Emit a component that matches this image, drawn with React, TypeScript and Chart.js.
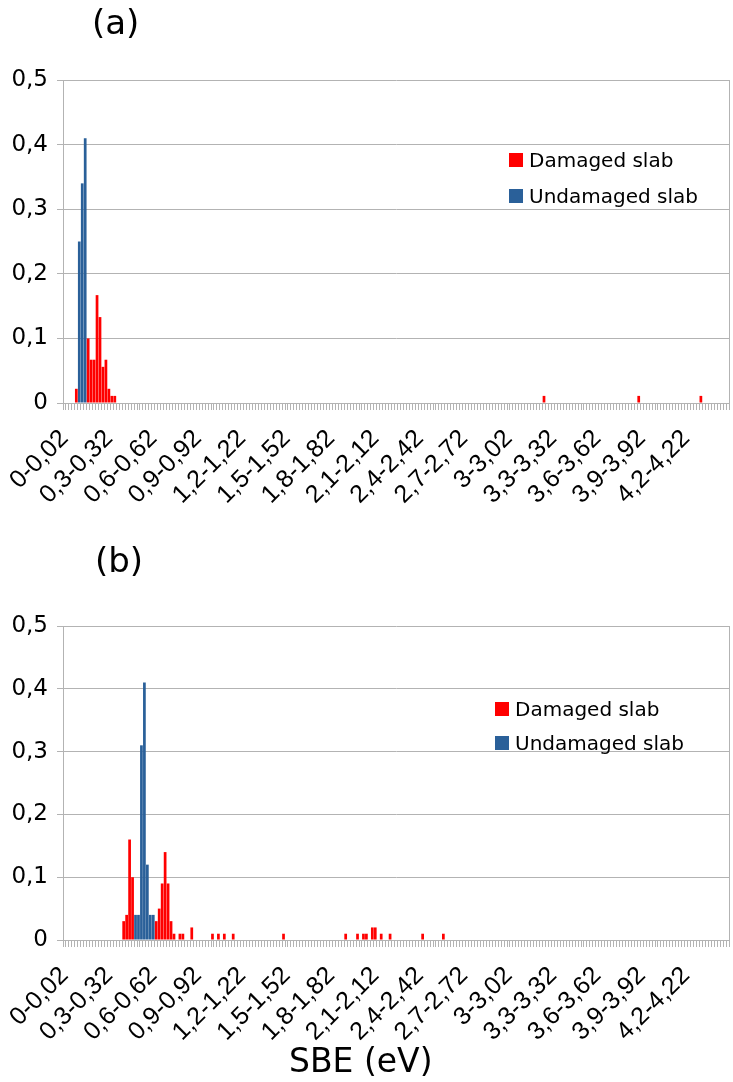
import React, { useEffect, useRef } from 'react';
import { Chart, registerables } from 'chart.js';

Chart.register(...registerables);

// ---- categories: SBE bins of 0.02 eV ----
const BIN_COUNT = 225;
const BIN_WIDTH = 0.02;
const LABEL_EVERY = 15;
const fmt = (v: number) => String(Math.round(v * 100) / 100).replace('.', ',');
const categories: string[] = Array.from({ length: BIN_COUNT }, (_, i) => `${fmt(i * BIN_WIDTH)}-${fmt((i + 1) * BIN_WIDTH)}`);

// ---- y ticks ----
const yTicks = [0, 0.1, 0.2, 0.3, 0.4, 0.5];

// ---- panel (a) ----
const damagedA_bins = [4, 8, 9, 10, 11, 12, 13, 14, 15, 16, 17, 162, 194, 215];
const damagedA_values = [0.022, 0.1, 0.067, 0.067, 0.167, 0.133, 0.056, 0.067, 0.022, 0.011, 0.011, 0.011, 0.011, 0.011];
const undamagedA_bins = [5, 6, 7];
const undamagedA_values = [0.25, 0.34, 0.41];

// ---- panel (b) ----
const damagedB_bins = [20, 21, 22, 23, 31, 32, 33, 34, 35, 36, 37, 39, 40, 43, 50, 52, 54, 57, 74, 95, 99, 101, 102, 104, 105, 107, 110, 121, 128];
const damagedB_values = [0.03, 0.04, 0.16, 0.10, 0.03, 0.05, 0.09, 0.14, 0.09, 0.03, 0.01, 0.01, 0.01, 0.02, 0.01, 0.01, 0.01, 0.01, 0.01, 0.01, 0.01, 0.01, 0.01, 0.02, 0.02, 0.01, 0.01, 0.01, 0.01];
const undamagedB_bins = [24, 25, 26, 27, 28, 29, 30];
const undamagedB_values = [0.04, 0.04, 0.31, 0.41, 0.12, 0.04, 0.04];

const RED = '#ff0000';
const BLUE = '#2a6099';
const GRID = '#b3b3b3';
const FONT = '"DejaVu Sans", sans-serif';
const TICK_FONT = '"Liberation Sans", Arial, sans-serif';

function toSeries(bins: number[], values: number[]): (number | null)[] {
  const out: (number | null)[] = new Array(BIN_COUNT).fill(null);
  bins.forEach((b, i) => { out[b] = values[i]; });
  return out;
}

const PLOT_LEFT = 63;
const PLOT_RIGHT_PAD = 4;

function makeChart(canvas: HTMLCanvasElement, damaged: (number | null)[], undamaged: (number | null)[], padTop: number, xHeight: number) {
  return new Chart(canvas, {
    type: 'bar',
    data: {
      labels: categories,
      datasets: [
        { label: 'Damaged slab', data: damaged, backgroundColor: RED, grouped: false, barPercentage: 0.92, categoryPercentage: 1 } as any,
        { label: 'Undamaged slab', data: undamaged, backgroundColor: BLUE, grouped: false, barPercentage: 0.92, categoryPercentage: 1 } as any,
      ],
    },
    options: {
      animation: false,
      responsive: true,
      maintainAspectRatio: false,
      layout: { padding: { top: padTop, right: PLOT_RIGHT_PAD, left: 0, bottom: 0 } },
      plugins: { legend: { display: false }, tooltip: { enabled: false }, title: { display: false } },
      scales: {
        x: {
          offset: true,
          grid: { display: true, drawOnChartArea: false, drawTicks: true, tickLength: 7, color: GRID, offset: true },
          border: { display: true, color: GRID },
          ticks: {
            autoSkip: false,
            minRotation: 45,
            maxRotation: 45,
            padding: 14,
            color: '#000',
            font: { family: TICK_FONT, size: 25 },
            callback: (_v: any, i: number) => (i % LABEL_EVERY === 0 ? categories[i] : ''),
          },
          afterFit: (s: any) => { s.height = xHeight; s.paddingLeft = 0; s.paddingRight = 0; },
        },
        y: {
          min: 0,
          max: 0.5,
          afterBuildTicks: (s: any) => { s.ticks = yTicks.map((v) => ({ value: v })); },
          grid: { color: GRID, tickLength: 6 },
          border: { display: true, color: GRID },
          ticks: {
            padding: 9,
            color: '#000',
            font: { family: FONT, size: 23 },
            callback: (v: any) => (v === 0 ? '0' : Number(v).toFixed(1).replace('.', ',')),
          },
          afterFit: (s: any) => { s.width = PLOT_LEFT; s.paddingTop = 0; s.paddingBottom = 0; },
        },
        y2: {
          position: 'right',
          display: true,
          min: 0,
          max: 0.5,
          grid: { drawOnChartArea: false, drawTicks: false },
          border: { display: true, color: GRID },
          ticks: { display: false },
          afterFit: (s: any) => { s.width = 0; },
        },
      },
    } as any,
  });
}

const legendItem = (color: string, text: string) => (
  <div style={{ display: 'flex', alignItems: 'center', height: 22 }}>
    <div style={{ width: 14, height: 14, background: color, marginRight: 6 }} />
    <span style={{ fontFamily: FONT, fontSize: 20, color: '#000', whiteSpace: 'nowrap' }}>{text}</span>
  </div>
);

export default function App() {
  const refA = useRef<HTMLCanvasElement>(null);
  const refB = useRef<HTMLCanvasElement>(null);

  useEffect(() => {
    const a = makeChart(refA.current!, toSeries(damagedA_bins, damagedA_values), toSeries(undamagedA_bins, undamagedA_values), 80, 530 - 403);
    const b = makeChart(refB.current!, toSeries(damagedB_bins, damagedB_values), toSeries(undamagedB_bins, undamagedB_values), 96, 552 - 410);
    return () => { a.destroy(); b.destroy(); };
  }, []);

  const text = (s: string, left: number, top: number, size: number) => (
    <div style={{ position: 'absolute', left, top, fontFamily: FONT, fontSize: size, lineHeight: `${size}px`, color: '#000', whiteSpace: 'nowrap' }}>{s}</div>
  );

  return (
    <div style={{ position: 'absolute', left: 0, top: 0, width: 733, height: 1082, background: '#fff', overflow: 'hidden' }}>
      <div style={{ position: 'absolute', left: 0, top: 0, width: 733, height: 530 }}>
        <canvas ref={refA} />
      </div>
      <div style={{ position: 'absolute', left: 0, top: 530, width: 733, height: 552 }}>
        <canvas ref={refB} />
      </div>
      {text('(a)', 92, 5, 34)}
      {text('(b)', 95, 543, 34)}
      {text('SBE (eV)', 289, 1044, 33)}
      <div style={{ position: 'absolute', left: 509, top: 149 }}>
        {legendItem(RED, 'Damaged slab')}
        <div style={{ height: 14 }} />
        {legendItem(BLUE, 'Undamaged slab')}
      </div>
      <div style={{ position: 'absolute', left: 495, top: 698 }}>
        {legendItem(RED, 'Damaged slab')}
        <div style={{ height: 12 }} />
        {legendItem(BLUE, 'Undamaged slab')}
      </div>
    </div>
  );
}
